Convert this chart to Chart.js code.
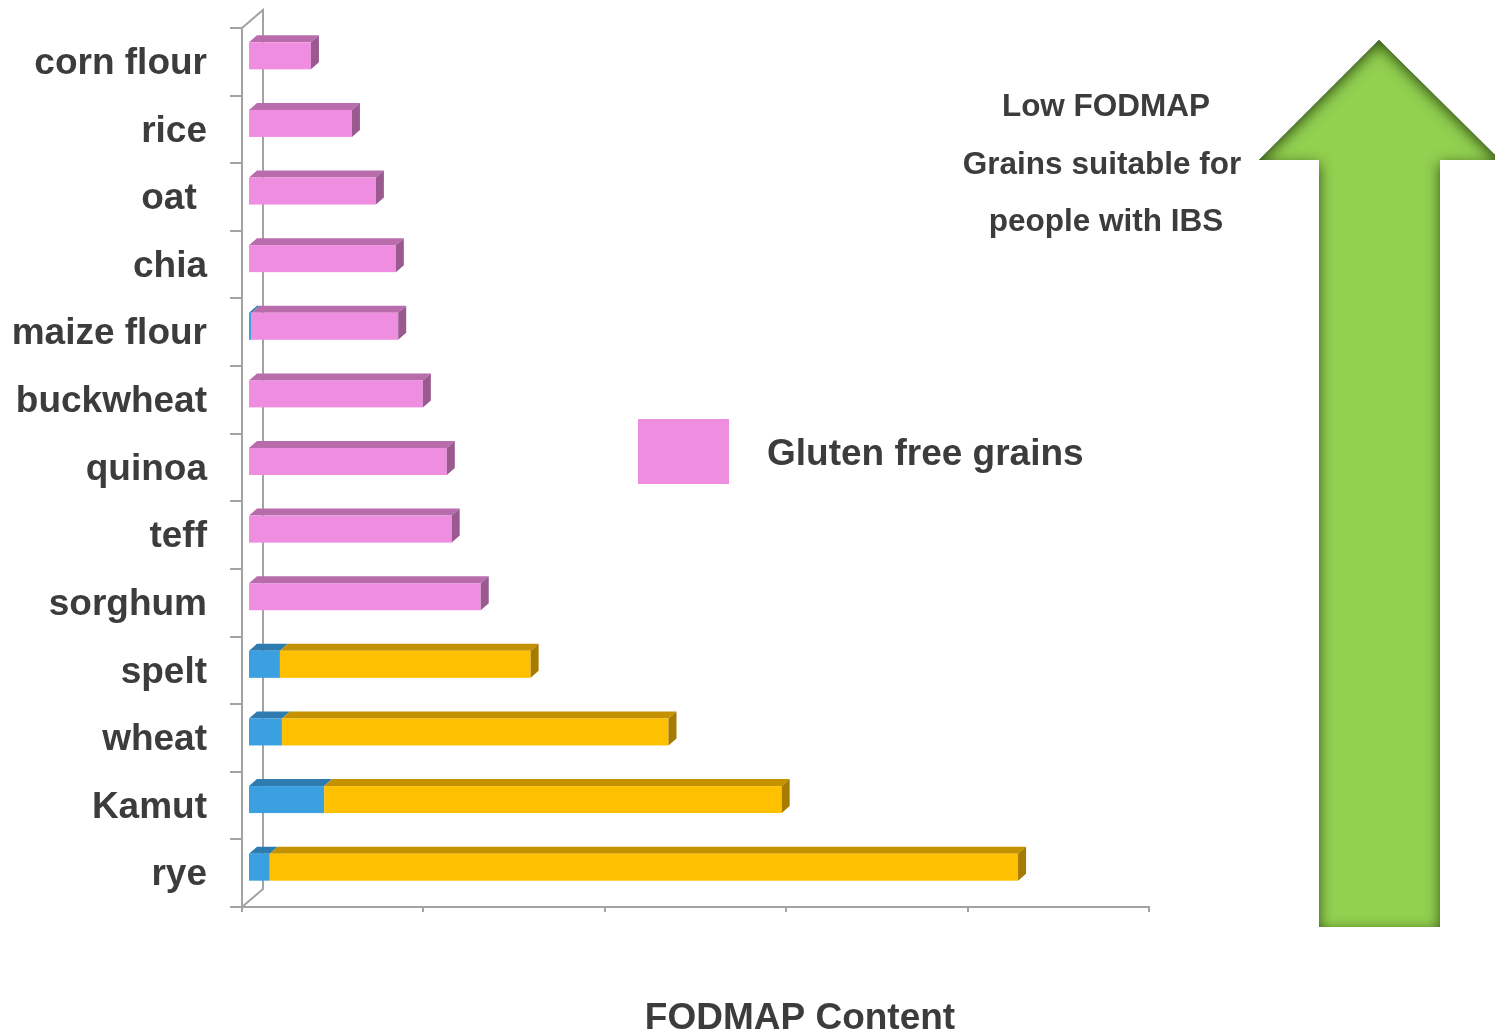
<!DOCTYPE html>
<html>
<head>
<meta charset="utf-8">
<title>FODMAP Content of Grains</title>
<script src="https://cdn.jsdelivr.net/npm/chart.js@4/dist/chart.umd.min.js"></script>
<style>
  html, body { margin: 0; padding: 0; background: #ffffff; }
  #wrap { width: 1495px; height: 1034px; position: relative; }
</style>
</head>
<body>
<div id="wrap"><canvas id="grains" width="1495" height="1034"></canvas></div>
<script>
// Grains, top to bottom
const categories = ['corn flour', 'rice', 'oat ', 'chia', 'maize flour', 'buckwheat',
  'quinoa', 'teff', 'sorghum', 'spelt', 'wheat', 'Kamut', 'rye'];

// FODMAP content, stacked left to right
const blueValues   = [0, 0, 0, 0, 0.2, 0, 0, 0, 0, 1.76, 1.87, 4.2, 1.2];
const pinkValues   = [3.47, 5.73, 7.05, 8.15, 8.08, 9.64, 10.96, 11.23, 12.83, 0, 0, 0, 0];
const yellowValues = [0, 0, 0, 0, 0, 0, 0, 0, 0, 13.82, 21.31, 25.22, 41.25];

// Value axis ticks (no labels shown)
const valueTicks = [0, 10, 20, 30, 40, 50];

const legendLabel = 'Gluten free grains';
const noteLines = ['Low FODMAP', 'Grains suitable for', 'people with IBS'];
const axisTitle = 'FODMAP Content';

const TEXT = '#3c3c3c';
const AXIS = '#a3a3a3';
const FONT = "'Liberation Sans', Arial, Helvetica, sans-serif";

// face colours: front, top, side
const shades = [
  { front: '#3aa0e0', top: '#2e7bb0', side: '#296c9c' },
  { front: '#ef8de1', top: '#b86cac', side: '#9a5a90' },
  { front: '#ffc000', top: '#c49200', side: '#a67b00' }
];

// depth of the box and of the bars inside it
const BOX_DX = 21, BOX_DY = -18;
const BAR_SHIFT_X = 6, BAR_SHIFT_Y = -6;
const BAR_DX = 8, BAR_DY = -7;

const box3d = {
  id: 'box3d',
  beforeDatasetsDraw(chart) {
    const { ctx, chartArea: a } = chart;
    ctx.save();
    ctx.strokeStyle = AXIS;
    ctx.lineWidth = 2;
    ctx.beginPath();
    ctx.moveTo(a.left, a.top);
    ctx.lineTo(a.left + BOX_DX, a.top + BOX_DY);
    ctx.lineTo(a.left + BOX_DX, a.bottom + BOX_DY);
    ctx.lineTo(a.left, a.bottom);
    ctx.stroke();
    ctx.restore();
  }
};

const bars3d = {
  id: 'bars3d',
  beforeDatasetsDraw(chart) {
    const { ctx } = chart;
    const metas = chart.data.datasets.map((d, i) => chart.getDatasetMeta(i));
    ctx.save();
    categories.forEach((c, idx) => {
      // last visible segment gets the end face
      let last = -1;
      metas.forEach((m, di) => {
        if (chart.data.datasets[di].data[idx] > 0) last = di;
      });
      metas.forEach((m, di) => {
        const v = chart.data.datasets[di].data[idx];
        if (!(v > 0)) return;
        const el = m.data[idx];
        const p = el.getProps(['x', 'y', 'base', 'height'], true);
        const x0 = Math.min(p.base, p.x) + BAR_SHIFT_X;
        const x1 = Math.max(p.base, p.x) + BAR_SHIFT_X;
        const top = p.y - p.height / 2 + BAR_SHIFT_Y;
        const bot = p.y + p.height / 2 + BAR_SHIFT_Y;
        const col = shades[di];
        // top face
        ctx.fillStyle = col.top;
        ctx.beginPath();
        ctx.moveTo(x0, top);
        ctx.lineTo(x0 + BAR_DX, top + BAR_DY);
        ctx.lineTo(x1 + BAR_DX, top + BAR_DY);
        ctx.lineTo(x1, top);
        ctx.closePath();
        ctx.fill();
        // front face
        ctx.fillStyle = col.front;
        ctx.fillRect(x0, top, x1 - x0, bot - top);
        // end face
        if (di === last) {
          ctx.fillStyle = col.side;
          ctx.beginPath();
          ctx.moveTo(x1, top);
          ctx.lineTo(x1 + BAR_DX, top + BAR_DY);
          ctx.lineTo(x1 + BAR_DX, bot + BAR_DY);
          ctx.lineTo(x1, bot);
          ctx.closePath();
          ctx.fill();
        }
      });
    });
    ctx.restore();
    return false;
  }
};

function arrowPath(ctx) {
  ctx.beginPath();
  ctx.moveTo(1379, 40);
  ctx.lineTo(1500, 160);
  ctx.lineTo(1440, 160);
  ctx.lineTo(1440, 927);
  ctx.lineTo(1319, 927);
  ctx.lineTo(1319, 160);
  ctx.lineTo(1259, 160);
  ctx.closePath();
}

const decorations = {
  id: 'decorations',
  afterDraw(chart) {
    const { ctx } = chart;
    ctx.save();
    // legend entry
    ctx.fillStyle = shades[1].front;
    ctx.fillRect(638, 419, 91, 65);
    ctx.fillStyle = TEXT;
    ctx.font = 'bold 37px ' + FONT;
    ctx.textAlign = 'left';
    ctx.textBaseline = 'middle';
    ctx.fillText(legendLabel, 767, 455);

    // value axis title
    ctx.textAlign = 'center';
    ctx.fillText(axisTitle, 800, 1019);

    // note beside the arrow
    ctx.font = 'bold 31.5px ' + FONT;
    const noteX = [1106, 1102, 1106];
    const noteY = [107, 165, 222];
    noteLines.forEach((t, i) => ctx.fillText(t, noteX[i], noteY[i]));

    // green arrow with a soft inner shadow
    arrowPath(ctx);
    ctx.fillStyle = '#92d050';
    ctx.fill();
    ctx.save();
    arrowPath(ctx);
    ctx.clip();
    ctx.beginPath();
    ctx.rect(1000, -200, 800, 1400);
    ctx.moveTo(1379, 40);
    ctx.lineTo(1259, 160);
    ctx.lineTo(1319, 160);
    ctx.lineTo(1319, 927);
    ctx.lineTo(1440, 927);
    ctx.lineTo(1440, 160);
    ctx.lineTo(1500, 160);
    ctx.closePath();
    ctx.shadowColor = 'rgba(35, 60, 10, 0.85)';
    ctx.shadowBlur = 14;
    ctx.shadowOffsetY = 4;
    ctx.fillStyle = '#000';
    ctx.fill('evenodd');
    ctx.restore();
    ctx.restore();
  }
};

new Chart(document.getElementById('grains'), {
  type: 'bar',
  data: {
    labels: categories,
    datasets: [
      { label: 'Other', data: blueValues, backgroundColor: shades[0].front },
      { label: legendLabel, data: pinkValues, backgroundColor: shades[1].front },
      { label: 'Gluten grains', data: yellowValues, backgroundColor: shades[2].front }
    ]
  },
  options: {
    indexAxis: 'y',
    responsive: false,
    animation: false,
    maintainAspectRatio: false,
    layout: { padding: { top: 28, right: 346, bottom: 0, left: 0 } },
    datasets: { bar: { barThickness: 27 } },
    plugins: { legend: { display: false }, tooltip: { enabled: false } },
    scales: {
      x: {
        stacked: true,
        min: valueTicks[0],
        max: valueTicks[valueTicks.length - 1],
        afterBuildTicks: s => { s.ticks = valueTicks.map(v => ({ value: v })); },
        ticks: { display: false },
        grid: { drawOnChartArea: false, tickLength: 5, color: AXIS, lineWidth: 2 },
        border: { color: AXIS, width: 2 },
        afterFit: s => { s.height = 127; s.paddingLeft = 0; s.paddingRight = 0; }
      },
      y: {
        stacked: true,
        offset: true,
        ticks: { color: TEXT, padding: 23, labelOffset: 2, font: { family: FONT, size: 37, weight: 'bold' } },
        grid: { drawOnChartArea: false, offset: true, tickLength: 12, color: AXIS, lineWidth: 2 },
        border: { color: AXIS, width: 2 },
        afterFit: s => { s.width = 242; s.paddingTop = 0; s.paddingBottom = 0; }
      }
    }
  },
  plugins: [box3d, bars3d, decorations]
});
</script>
</body>
</html>
